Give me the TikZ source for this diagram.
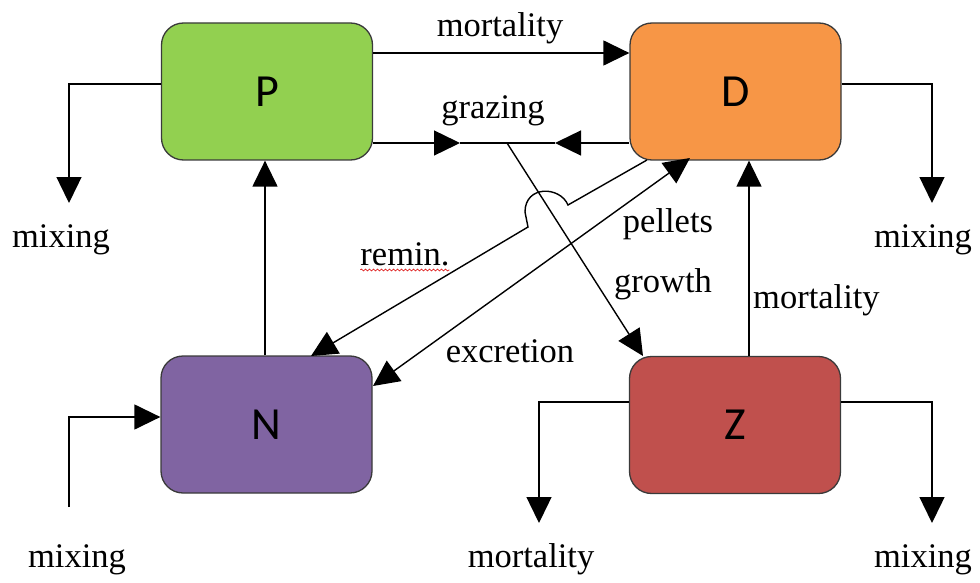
\documentclass[tikz,border=0pt]{standalone}
\usepackage{fontspec}
\setmainfont{Liberation Serif}
\newfontfamily\boxfont{Carlito}
\usetikzlibrary{arrows.meta,decorations.pathmorphing}
\definecolor{pgreen}{HTML}{92D050}
\definecolor{dorange}{HTML}{F79646}
\definecolor{npurple}{HTML}{8064A2}
\definecolor{zred}{HTML}{C0504D}
\definecolor{edge}{HTML}{3A3A3A}
\begin{document}
\begin{tikzpicture}[x=1pt,y=-1pt,
  box/.style={draw=edge, line width=1.3pt, rounded corners=22pt, minimum width=211pt, minimum height=137pt, inner sep=0pt, font=\boxfont\fontsize{46}{46}\selectfont},
  ln/.style={line width=1.4pt},
  arr/.style={line width=1.4pt, -{Triangle[length=26pt,width=25pt]}},
  lbl/.style={font=\fontsize{34.5}{40}\selectfont, anchor=base, inner sep=0pt},
]
\useasboundingbox (0,0) rectangle (980,583);

% boxes
\node[box, fill=pgreen]  (P) at (267,91.5) {P};
\node[box, fill=dorange] (D) at (735.5,91.5) {D};
\node[box, fill=npurple] (N) at (266.5,424.5) {N};
\node[box, fill=zred]    (Z) at (735,425) {Z};

% helper coordinates
\coordinate (y53)  at (0,53);
\coordinate (y84)  at (0,84);
\coordinate (y402) at (0,402);
\coordinate (y417) at (0,417);
\coordinate (x265) at (265,0);
\coordinate (x749) at (749,0);
\coordinate (G)  at (507,143);
\coordinate (ga) at (460,143);
\coordinate (gb) at (555,143);
\coordinate (gz) at (643,356);
\coordinate (pm) at (69,84);
\coordinate (pmt) at (69,203);
\coordinate (dm) at (932,84);
\coordinate (dmt) at (932,203);
\coordinate (zl) at (539,402);
\coordinate (zlt) at (539,523);
\coordinate (zr) at (932,402);
\coordinate (zrt) at (932,523);
\coordinate (ns) at (69,507);
\coordinate (nc) at (69,417);
\coordinate (r0) at (647,160);
\coordinate (r1) at (568,205);
\coordinate (r2) at (525,212);
\coordinate (r3) at (528,227);
\coordinate (rt) at (311,356);
\coordinate (et) at (373,386);
\coordinate (pt) at (690,158);

% P -> D mortality
\draw[arr] (P.east |- y53) -- (D.west |- y53);
% grazing
\draw[arr] (P.east |- G) -- (ga);
\draw[ln] (ga) -- (G);
\draw[arr] (D.west |- G) -- (gb);
\draw[ln] (gb) -- (G);
\draw[arr] (G) -- (gz);
% mixing from P and D
\draw[arr] (P.west |- y84) -- (pm) -- (pmt);
\draw[arr] (D.east |- y84) -- (dm) -- (dmt);
% Z losses
\draw[arr] (Z.west |- y402) -- (zl) -- (zlt);
\draw[arr] (Z.east |- y402) -- (zr) -- (zrt);
% N input mixing
\draw[arr] (ns) -- (nc) -- (N.west |- y417);
% N -> P uptake
\draw[arr] (N.north -| x265) -- (P.south -| x265);
% Z -> D mortality
\draw[arr] (Z.north -| x749) -- (D.south -| x749);
% remineralisation D -> N with hop
\draw[arr] (r0) -- (r1) .. controls (560,186) and (525,185) .. (r2) -- (r3) -- (rt);
% pellets / excretion
\draw[line width=1.4pt, {Triangle[length=26pt,width=25pt]}-{Triangle[length=26pt,width=25pt]}] (et) -- (pt);

% labels
\node[lbl] (l1) at (500,37) {mortality};
\node[lbl] (l2) at (493,119) {grazing};
\node[lbl] (l3) at (668,232) {pellets};
\node[lbl] (l4) at (663,292) {growth};
\node[lbl] (l5) at (405,265) {remin.};
\node[lbl] (l6) at (510,362) {excretion};
\node[lbl, anchor=base west] (l7) at (753,308) {mortality};
\node[lbl] (l8) at (61,247) {mixing};
\node[lbl] (l9) at (923,247) {mixing};
\node[lbl] (l10) at (531,567) {mortality};
\node[lbl] (l11) at (923,567) {mixing};
\node[lbl] (l12) at (77,567) {mixing};
\draw[red!85!black, line width=0.6pt, decorate, decoration={snake, amplitude=1pt, segment length=4pt}] (l5.base west) ++(0,5) -- ++(89,0);
\end{tikzpicture}
\end{document}
